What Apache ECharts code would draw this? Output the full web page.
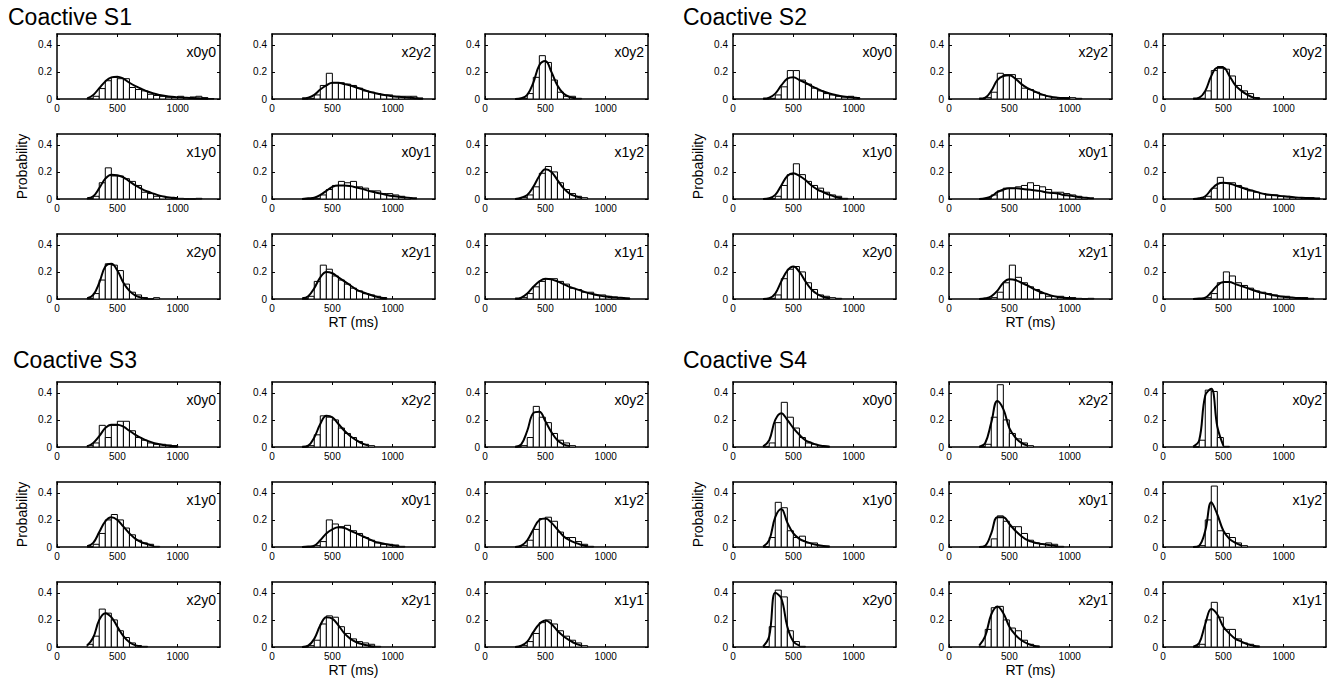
<!DOCTYPE html>
<html>
<head>
<meta charset="utf-8">
<title>Coactive RT distributions</title>
<script src="https://cdn.jsdelivr.net/npm/echarts@6/dist/echarts.min.js"></script>
<style>
html, body { margin: 0; padding: 0; background: #fff; }
#main { width: 1329px; height: 680px; }
</style>
</head>
<body>
<div id="main"></div>
<script>
// histogram bins are 50 ms wide, first bin starts at 250 ms
// fit curves are read at the same 50 ms steps (x = 250, 300, ...)
var binStart = 250;
var binWidth = 50;

var groupTitles = ['Coactive S1', 'Coactive S2', 'Coactive S3', 'Coactive S4'];
var panelLabels = ['x0y0', 'x2y2', 'x0y2', 'x1y0', 'x0y1', 'x1y2', 'x2y0', 'x2y1', 'x1y1'];
var xTicks = [0, 500, 1000];
var yTicks = [0, 0.2, 0.4];
var xLabel = 'RT (ms)';
var yLabel = 'Probability';

// ---- Coactive S1 ----
var s1_x0y0_hist = [0.005, 0.02, 0.077, 0.135, 0.16, 0.15, 0.15, 0.085, 0.07, 0.06, 0.035, 0.026, 0.02, 0.013, 0.01, 0.02, 0.01, 0.015, 0.02, 0.01, 0.003];
var s1_x0y0_fit  = [0.005, 0.03, 0.08, 0.13, 0.16, 0.165, 0.15, 0.12, 0.095, 0.075, 0.055, 0.04, 0.03, 0.022, 0.016, 0.012, 0.01, 0.008, 0.006, 0.004, 0.002];
var s1_x2y2_hist = [0, 0.005, 0.03, 0.1, 0.19, 0.12, 0.12, 0.11, 0.1, 0.08, 0.06, 0.05, 0.04, 0.03, 0.03, 0.02, 0.02, 0.02, 0.02, 0.005];
var s1_x2y2_fit  = [0.005, 0.01, 0.03, 0.07, 0.1, 0.12, 0.12, 0.11, 0.1, 0.085, 0.07, 0.055, 0.045, 0.035, 0.027, 0.02, 0.016, 0.012, 0.009, 0.006, 0.004];
var s1_x0y2_hist = [0, 0.005, 0.04, 0.16, 0.32, 0.27, 0.14, 0.05, 0.02, 0.02, 0.005];
var s1_x0y2_fit  = [0, 0.005, 0.03, 0.12, 0.25, 0.28, 0.2, 0.1, 0.04, 0.015, 0.005];
var s1_x1y0_hist = [0.005, 0.02, 0.12, 0.23, 0.17, 0.17, 0.15, 0.13, 0.1, 0.05, 0.04, 0.02, 0.02, 0.01, 0.005, 0.005, 0, 0, 0.005];
var s1_x1y0_fit  = [0.005, 0.02, 0.08, 0.15, 0.18, 0.175, 0.16, 0.13, 0.1, 0.075, 0.055, 0.04, 0.025, 0.015, 0.01, 0.005];
var s1_x0y1_hist = [0, 0, 0.005, 0.03, 0.07, 0.1, 0.13, 0.12, 0.13, 0.09, 0.08, 0.06, 0.06, 0.04, 0.04, 0.03, 0.02, 0.01];
var s1_x0y1_fit  = [0, 0.005, 0.01, 0.03, 0.06, 0.09, 0.1, 0.1, 0.095, 0.085, 0.075, 0.06, 0.05, 0.04, 0.03, 0.022, 0.017, 0.012, 0.008, 0.005];
var s1_x1y2_hist = [0, 0.01, 0.03, 0.09, 0.19, 0.24, 0.2, 0.12, 0.07, 0.04, 0.02, 0.01];
var s1_x1y2_fit  = [0, 0.01, 0.03, 0.09, 0.17, 0.22, 0.2, 0.14, 0.08, 0.04, 0.02, 0.008];
var s1_x2y0_hist = [0.005, 0.04, 0.14, 0.26, 0.25, 0.21, 0.11, 0.05, 0.03, 0.01, 0, 0.01];
var s1_x2y0_fit  = [0.005, 0.03, 0.12, 0.24, 0.26, 0.21, 0.12, 0.06, 0.025, 0.01, 0.004];
var s1_x2y1_hist = [0, 0.02, 0.13, 0.25, 0.22, 0.17, 0.14, 0.11, 0.08, 0.06, 0.04, 0.03, 0.02, 0.01];
var s1_x2y1_fit  = [0.005, 0.02, 0.08, 0.16, 0.2, 0.19, 0.16, 0.13, 0.1, 0.07, 0.05, 0.035, 0.02, 0.01, 0.005];
var s1_x1y1_hist = [0, 0.01, 0.04, 0.09, 0.13, 0.15, 0.15, 0.13, 0.11, 0.08, 0.07, 0.05, 0.05, 0.03, 0.03, 0.02, 0.015, 0.01, 0.005];
var s1_x1y1_fit  = [0.003, 0.01, 0.04, 0.09, 0.13, 0.15, 0.145, 0.13, 0.11, 0.09, 0.075, 0.06, 0.045, 0.035, 0.025, 0.018, 0.013, 0.01, 0.007, 0.004];

// ---- Coactive S2 ----
var s2_x0y0_hist = [0, 0.005, 0.03, 0.09, 0.21, 0.21, 0.14, 0.11, 0.08, 0.06, 0.04, 0.03, 0.02, 0.015, 0.02, 0.01];
var s2_x0y0_fit  = [0.003, 0.01, 0.04, 0.1, 0.15, 0.16, 0.14, 0.12, 0.095, 0.075, 0.055, 0.04, 0.03, 0.02, 0.015, 0.01, 0.005];
var s2_x2y2_hist = [0, 0.01, 0.05, 0.19, 0.18, 0.18, 0.15, 0.08, 0.07, 0.05, 0.03, 0.02, 0.01, 0.01, 0.01, 0.01, 0.005];
var s2_x2y2_fit  = [0.003, 0.01, 0.06, 0.14, 0.17, 0.175, 0.15, 0.11, 0.08, 0.06, 0.04, 0.025, 0.015, 0.01, 0.007, 0.005];
var s2_x0y2_hist = [0, 0.005, 0.06, 0.21, 0.24, 0.22, 0.17, 0.1, 0.06, 0.04, 0.01];
var s2_x0y2_fit  = [0.003, 0.01, 0.06, 0.17, 0.23, 0.23, 0.17, 0.1, 0.06, 0.03, 0.01, 0.003];
var s2_x1y0_hist = [0, 0, 0.02, 0.1, 0.18, 0.26, 0.18, 0.13, 0.1, 0.08, 0.05, 0.03, 0.02, 0.005];
var s2_x1y0_fit  = [0, 0.005, 0.03, 0.1, 0.17, 0.19, 0.17, 0.14, 0.1, 0.07, 0.05, 0.03, 0.015, 0.005];
var s2_x0y1_hist = [0, 0, 0.03, 0.06, 0.08, 0.08, 0.09, 0.1, 0.12, 0.1, 0.09, 0.07, 0.05, 0.05, 0.04, 0.03, 0.02, 0.01];
var s2_x0y1_fit  = [0, 0.005, 0.02, 0.05, 0.07, 0.08, 0.08, 0.075, 0.07, 0.065, 0.06, 0.05, 0.045, 0.04, 0.03, 0.025, 0.018, 0.012, 0.008, 0.005];
var s2_x1y2_hist = [0, 0, 0.02, 0.08, 0.16, 0.12, 0.12, 0.1, 0.08, 0.06, 0.05, 0.04, 0.03, 0.03, 0.02, 0.02, 0.01, 0.01, 0.01, 0.01, 0.005];
var s2_x1y2_fit  = [0, 0.005, 0.02, 0.07, 0.11, 0.12, 0.115, 0.1, 0.085, 0.07, 0.06, 0.045, 0.035, 0.03, 0.025, 0.02, 0.016, 0.012, 0.009, 0.007, 0.005, 0.003];
var s2_x2y0_hist = [0, 0.005, 0.03, 0.15, 0.22, 0.24, 0.2, 0.12, 0.07, 0.03, 0.02, 0.01, 0.005];
var s2_x2y0_fit  = [0, 0.005, 0.04, 0.13, 0.21, 0.24, 0.2, 0.13, 0.07, 0.035, 0.015, 0.005];
var s2_x2y1_hist = [0, 0, 0.01, 0.05, 0.12, 0.25, 0.16, 0.12, 0.09, 0.07, 0.04, 0.02, 0.02, 0.02, 0.01, 0.01, 0.005, 0, 0.005];
var s2_x2y1_fit  = [0, 0.005, 0.02, 0.06, 0.12, 0.145, 0.14, 0.12, 0.1, 0.075, 0.055, 0.04, 0.025, 0.015, 0.01, 0.006, 0.003];
var s2_x1y1_hist = [0, 0, 0.01, 0.04, 0.12, 0.2, 0.17, 0.12, 0.1, 0.08, 0.06, 0.05, 0.04, 0.03, 0.02, 0.02, 0.01, 0.01, 0.01, 0.005];
var s2_x1y1_fit  = [0, 0.003, 0.01, 0.05, 0.1, 0.125, 0.125, 0.11, 0.095, 0.08, 0.065, 0.05, 0.04, 0.03, 0.022, 0.016, 0.012, 0.008, 0.006, 0.004];

// ---- Coactive S3 ----
var s3_x0y0_hist = [0.01, 0.03, 0.16, 0.07, 0.16, 0.19, 0.19, 0.12, 0.07, 0.05, 0.03, 0.02, 0.02, 0.015, 0.01];
var s3_x0y0_fit  = [0.005, 0.03, 0.08, 0.14, 0.165, 0.165, 0.15, 0.12, 0.09, 0.065, 0.045, 0.03, 0.02, 0.012, 0.007, 0.003];
var s3_x2y2_hist = [0, 0.01, 0.09, 0.23, 0.22, 0.2, 0.14, 0.1, 0.07, 0.04, 0.02, 0.01];
var s3_x2y2_fit  = [0.002, 0.01, 0.07, 0.17, 0.23, 0.22, 0.17, 0.12, 0.08, 0.05, 0.025, 0.01];
var s3_x0y2_hist = [0, 0.01, 0.07, 0.3, 0.22, 0.18, 0.1, 0.05, 0.03, 0.01];
var s3_x0y2_fit  = [0.002, 0.02, 0.12, 0.25, 0.26, 0.19, 0.11, 0.05, 0.02, 0.008];
var s3_x1y0_hist = [0, 0.02, 0.1, 0.2, 0.24, 0.2, 0.14, 0.09, 0.05, 0.03, 0.02, 0.005];
var s3_x1y0_fit  = [0.005, 0.03, 0.11, 0.19, 0.22, 0.2, 0.15, 0.1, 0.06, 0.035, 0.02, 0.008];
var s3_x0y1_hist = [0, 0, 0.01, 0.04, 0.2, 0.17, 0.15, 0.16, 0.12, 0.1, 0.07, 0.05, 0.03, 0.02, 0.02, 0.015, 0.005];
var s3_x0y1_fit  = [0, 0.003, 0.01, 0.05, 0.1, 0.13, 0.145, 0.14, 0.12, 0.1, 0.08, 0.06, 0.04, 0.03, 0.02, 0.012, 0.005];
var s3_x1y2_hist = [0, 0.01, 0.05, 0.13, 0.21, 0.22, 0.19, 0.11, 0.07, 0.07, 0.04, 0.02, 0.005];
var s3_x1y2_fit  = [0, 0.01, 0.05, 0.13, 0.2, 0.21, 0.18, 0.13, 0.08, 0.05, 0.03, 0.015, 0.005];
var s3_x2y0_hist = [0.02, 0.08, 0.28, 0.25, 0.2, 0.12, 0.07, 0.03, 0.01, 0.005];
var s3_x2y0_fit  = [0.01, 0.07, 0.2, 0.25, 0.22, 0.15, 0.08, 0.035, 0.012, 0.005];
var s3_x2y1_hist = [0, 0.01, 0.05, 0.17, 0.23, 0.22, 0.15, 0.1, 0.06, 0.04, 0.03, 0.02, 0.005];
var s3_x2y1_fit  = [0, 0.01, 0.06, 0.16, 0.22, 0.21, 0.16, 0.1, 0.06, 0.035, 0.02, 0.01, 0.003];
var s3_x1y1_hist = [0, 0.01, 0.04, 0.1, 0.18, 0.2, 0.17, 0.12, 0.08, 0.05, 0.03, 0.01];
var s3_x1y1_fit  = [0, 0.01, 0.04, 0.11, 0.17, 0.195, 0.17, 0.12, 0.08, 0.05, 0.025, 0.01];

// ---- Coactive S4 ----
var s4_x0y0_hist = [0.005, 0.03, 0.18, 0.33, 0.22, 0.14, 0.07, 0.03, 0.02, 0.01, 0.005];
var s4_x0y0_fit  = [0.005, 0.05, 0.2, 0.25, 0.2, 0.14, 0.09, 0.05, 0.03, 0.015, 0.007, 0.002];
var s4_x2y2_hist = [0, 0.02, 0.22, 0.46, 0.2, 0.1, 0.06, 0.03, 0.01];
var s4_x2y2_fit  = [0.003, 0.03, 0.18, 0.34, 0.28, 0.14, 0.07, 0.03, 0.01];
var s4_x0y2_hist = [0, 0.05, 0.42, 0.41, 0.07, 0.005];
var s4_x0y2_fit  = [0.003, 0.05, 0.38, 0.43, 0.15, 0.01];
var s4_x1y0_hist = [0, 0.07, 0.33, 0.29, 0.12, 0.07, 0.08, 0.03, 0.03, 0.01, 0.005];
var s4_x1y0_fit  = [0.003, 0.05, 0.22, 0.28, 0.18, 0.1, 0.06, 0.04, 0.025, 0.015, 0.008, 0.003];
var s4_x0y1_hist = [0, 0.005, 0.06, 0.23, 0.19, 0.15, 0.15, 0.1, 0.05, 0.03, 0.02, 0.03, 0.02, 0.005];
var s4_x0y1_fit  = [0, 0.01, 0.1, 0.22, 0.22, 0.17, 0.12, 0.08, 0.05, 0.035, 0.025, 0.018, 0.012, 0.005];
var s4_x1y2_hist = [0, 0.01, 0.2, 0.45, 0.12, 0.1, 0.07, 0.03, 0.01];
var s4_x1y2_fit  = [0, 0.01, 0.12, 0.33, 0.24, 0.12, 0.06, 0.03, 0.01];
var s4_x2y0_hist = [0, 0.15, 0.42, 0.37, 0.12, 0.04, 0.005];
var s4_x2y0_fit  = [0.005, 0.08, 0.4, 0.36, 0.15, 0.04, 0.01];
var s4_x2y1_hist = [0.005, 0.13, 0.29, 0.3, 0.2, 0.14, 0.12, 0.05, 0.02, 0.005];
var s4_x2y1_fit  = [0.01, 0.08, 0.24, 0.3, 0.25, 0.15, 0.09, 0.05, 0.025, 0.01, 0.003];
var s4_x1y1_hist = [0, 0.02, 0.2, 0.33, 0.22, 0.13, 0.13, 0.06, 0.03, 0.02, 0.005];
var s4_x1y1_fit  = [0.003, 0.03, 0.17, 0.28, 0.24, 0.15, 0.1, 0.06, 0.04, 0.02, 0.01, 0.003];

// panel order inside each group: row by row, same as panelLabels
var histGroups = [
    [s1_x0y0_hist, s1_x2y2_hist, s1_x0y2_hist, s1_x1y0_hist, s1_x0y1_hist, s1_x1y2_hist, s1_x2y0_hist, s1_x2y1_hist, s1_x1y1_hist],
    [s2_x0y0_hist, s2_x2y2_hist, s2_x0y2_hist, s2_x1y0_hist, s2_x0y1_hist, s2_x1y2_hist, s2_x2y0_hist, s2_x2y1_hist, s2_x1y1_hist],
    [s3_x0y0_hist, s3_x2y2_hist, s3_x0y2_hist, s3_x1y0_hist, s3_x0y1_hist, s3_x1y2_hist, s3_x2y0_hist, s3_x2y1_hist, s3_x1y1_hist],
    [s4_x0y0_hist, s4_x2y2_hist, s4_x0y2_hist, s4_x1y0_hist, s4_x0y1_hist, s4_x1y2_hist, s4_x2y0_hist, s4_x2y1_hist, s4_x1y1_hist]
];
var fitGroups = [
    [s1_x0y0_fit, s1_x2y2_fit, s1_x0y2_fit, s1_x1y0_fit, s1_x0y1_fit, s1_x1y2_fit, s1_x2y0_fit, s1_x2y1_fit, s1_x1y1_fit],
    [s2_x0y0_fit, s2_x2y2_fit, s2_x0y2_fit, s2_x1y0_fit, s2_x0y1_fit, s2_x1y2_fit, s2_x2y0_fit, s2_x2y1_fit, s2_x1y1_fit],
    [s3_x0y0_fit, s3_x2y2_fit, s3_x0y2_fit, s3_x1y0_fit, s3_x0y1_fit, s3_x1y2_fit, s3_x2y0_fit, s3_x2y1_fit, s3_x1y1_fit],
    [s4_x0y0_fit, s4_x2y2_fit, s4_x0y2_fit, s4_x1y0_fit, s4_x0y1_fit, s4_x1y2_fit, s4_x2y0_fit, s4_x2y1_fit, s4_x1y1_fit]
];

// layout (px)
var font = '"Liberation Sans", Arial, sans-serif';
var panelW = 163, panelH = 65;
var colLeft = [[57, 272, 485], [733, 949, 1163]];
var rowTop = [[34, 134, 234], [382, 482, 582]];
var titlePos = [[8, 17], [683, 17], [13, 360], [683, 360]];

function fmtX(v) { return String(v); }
function fmtY(v) { return v === 0 ? '0' : v.toFixed(1); }

function renderBar(params, api) {
    var x0 = api.value(0);
    var p0 = api.coord([x0, api.value(1)]);
    var p1 = api.coord([x0 + binWidth, 0]);
    return {
        type: 'rect',
        shape: { x: p0[0], y: p0[1], width: p1[0] - p0[0], height: p1[1] - p0[1] },
        style: { fill: '#fff', stroke: '#000', lineWidth: 1 }
    };
}

function buildOption() {
    var grids = [], xAxes = [], yAxes = [], series = [], graphics = [];
    for (var g = 0; g < 4; g++) {
        graphics.push({
            type: 'text', x: titlePos[g][0], y: titlePos[g][1],
            style: { text: groupTitles[g], font: '23px ' + font, fill: '#000', align: 'left', verticalAlign: 'middle' }
        });
        for (var p = 0; p < 9; p++) {
            var r = Math.floor(p / 3), c = p % 3;
            var k = g * 9 + p;
            var pLeft = colLeft[g % 2][c], pTop = rowTop[Math.floor(g / 2)][r];
            grids.push({ left: pLeft, top: pTop, width: panelW, height: panelH, show: false });

            var xb = {
                gridIndex: k, type: 'value', position: 'bottom', min: 0, max: 1350, interval: 500,
                axisLine: { show: true, onZero: false, lineStyle: { color: '#000', width: 1.5 } },
                axisTick: { show: true, inside: true, length: 3, lineStyle: { color: '#000', width: 1 } },
                axisLabel: { show: true, color: '#000', fontSize: 10, fontFamily: font, margin: 4, showMaxLabel: false, formatter: fmtX },
                splitLine: { show: false }
            };
            if (r === 2 && c === 1) {
                xb.name = xLabel;
                xb.nameLocation = 'middle';
                xb.nameGap = 16;
                xb.nameTextStyle = { color: '#000', fontSize: 14, fontFamily: font };
            }
            xAxes.push(xb);
            xAxes.push({
                gridIndex: k, type: 'value', position: 'top', min: 0, max: 1350, interval: 500,
                axisLine: { show: true, onZero: false, lineStyle: { color: '#000', width: 1.5 } },
                axisTick: { show: true, inside: true, length: 3, lineStyle: { color: '#000', width: 1 } },
                axisLabel: { show: false }, splitLine: { show: false }
            });

            var yl = {
                gridIndex: k, type: 'value', position: 'left', min: 0, max: 0.48, interval: 0.2,
                axisLine: { show: true, onZero: false, lineStyle: { color: '#000', width: 1.5 } },
                axisTick: { show: true, inside: true, length: 3, lineStyle: { color: '#000', width: 1 } },
                axisLabel: { show: true, color: '#000', fontSize: 10, fontFamily: font, margin: 5, showMaxLabel: false, formatter: fmtY },
                splitLine: { show: false }
            };
            if (r === 1 && c === 0) {
                yl.name = yLabel;
                yl.nameLocation = 'middle';
                yl.nameGap = 28;
                yl.nameRotate = 90;
                yl.nameTextStyle = { color: '#000', fontSize: 14, fontFamily: font };
            }
            yAxes.push(yl);
            yAxes.push({
                gridIndex: k, type: 'value', position: 'right', min: 0, max: 0.48, interval: 0.2,
                axisLine: { show: true, onZero: false, lineStyle: { color: '#000', width: 1.5 } },
                axisTick: { show: true, inside: true, length: 3, lineStyle: { color: '#000', width: 1 } },
                axisLabel: { show: false }, splitLine: { show: false }
            });

            var hist = histGroups[g][p];
            var fit = fitGroups[g][p];
            series.push({
                type: 'custom', xAxisIndex: 2 * k, yAxisIndex: 2 * k,
                data: hist.map(function (v, i) { return [binStart + i * binWidth, v]; }),
                encode: { x: 0, y: 1 },
                renderItem: renderBar, z: 2
            });
            series.push({
                type: 'line', xAxisIndex: 2 * k, yAxisIndex: 2 * k,
                data: fit.map(function (v, i) { return [binStart + i * binWidth, v]; }),
                smooth: 0.4, symbol: 'none', z: 3,
                lineStyle: { color: '#000', width: 2 }
            });

            graphics.push({
                type: 'text', x: pLeft + panelW - 4, y: pTop + 18,
                style: { text: panelLabels[p], font: '14px ' + font, fill: '#000', align: 'right', verticalAlign: 'middle' }
            });
        }
    }
    return {
        animation: false,
        backgroundColor: '#fff',
        grid: grids,
        xAxis: xAxes,
        yAxis: yAxes,
        series: series,
        graphic: graphics
    };
}

var chart = echarts.init(document.getElementById('main'), null, { renderer: 'svg' });
chart.setOption(buildOption());
</script>
</body>
</html>
